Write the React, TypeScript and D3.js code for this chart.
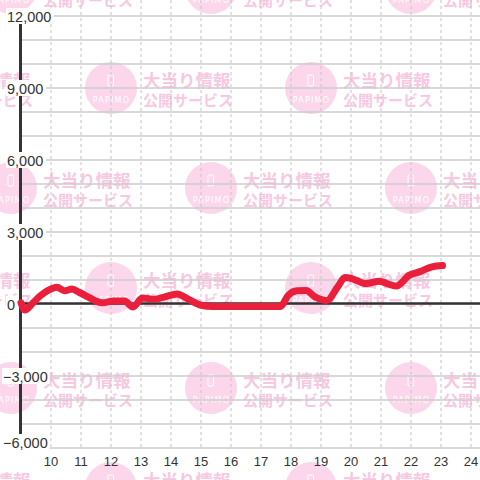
import * as d3 from 'd3';

const hours = [
  9.0, 9.13, 9.4, 9.65, 9.95, 10.2, 10.45, 10.7, 10.95, 11.3, 11.7, 12.1, 12.45, 12.73,
  13.05, 13.45, 13.8, 14.2, 14.6, 15.0, 15.4, 16.0, 17.0, 17.65, 17.9, 18.2, 18.5, 18.8,
  19.2, 19.55, 19.8, 20.05, 20.5, 20.95, 21.2, 21.5, 21.95, 22.3, 22.7, 23.05,
];
const balance = [
  50, -250, 50, 350, 600, 700, 550, 620, 480, 250, 50, 130, 120, -120,
  250, 200, 300, 420, 180, -50, -100, -100, -100, -100, 350, 550, 560, 300,
  150, 700, 1100, 1050, 850, 950, 850, 750, 1200, 1350, 1550, 1600,
];
const yLabelTicks = [12000, 9000, 6000, 3000, 0, -3000, -6000];
const yGridTicks = d3.range(-6000, 12001, 1000);
const xTicks = d3.range(10, 25);
const wmLine1 = '大当り情報';
const wmLine2 = '公開サービス';
const wmBrand = 'PAPIMO';

const W = 480;
const H = 480;
const FONT = '"Liberation Sans", Arial, sans-serif';

export default function App() {
  const x = d3.scaleLinear().domain([9, 24]).range([21, 471]);
  const y = d3.scaleLinear().domain([-6000, 12000]).range([448, 16]);

  const pts = hours.map((h, i) => [h, balance[i]] as [number, number]);
  const line = d3
    .line<[number, number]>()
    .x((d) => x(d[0]))
    .y((d) => y(d[1]))
    .curve(d3.curveMonotoneX);

  // watermark tiles
  const marks: { cx: number; cy: number }[] = [];
  for (let r = 0; r < 6; r++) {
    const off = (r % 2) * 100 + 10;
    for (let j = -1; j < 3; j++) marks.push({ cx: off + j * 200, cy: -12 + r * 100 });
  }

  const fmt = d3.format(',');

  return (
    <svg
      width={W}
      height={H}
      style={{ position: 'absolute', left: 0, top: 0, background: '#fff' }}
      fontFamily={FONT}
    >
      <rect width={W} height={H} fill="#fff" />

      {/* watermark */}
      <g>
        {marks.map((m, i) => (
          <g key={i}>
            <circle cx={m.cx + 1} cy={m.cy} r={26} fill="#fcd6eb" />
            <rect x={m.cx - 2} y={m.cy - 13} width={5.5} height={11} rx={1} fill="none" stroke="#fff" strokeWidth={1} />
            <text x={m.cx + 1.5} y={m.cy + 15} fill="#fff" fontSize={8} textAnchor="middle" letterSpacing={1.2} fontFamily='"DejaVu Sans", sans-serif'>
              {wmBrand}
            </text>
            <text x={m.cx + 33} y={m.cy - 1} fill="#f8c8e2" fontSize={17.5} fontWeight="bold" fontFamily='"Noto Sans CJK JP", sans-serif'>
              {wmLine1}
            </text>
            <text x={m.cx + 33} y={m.cy + 18} fill="#f8c8e2" fontSize={15} fontWeight="bold" fontFamily='"Noto Sans CJK JP", sans-serif'>
              {wmLine2}
            </text>
          </g>
        ))}
      </g>

      {/* horizontal grid */}
      {yGridTicks.map((t) => (
        <line key={'h' + t} x1={x(9)} x2={W} y1={y(t)} y2={y(t)} stroke="#cccccc" strokeWidth={1.5} />
      ))}

      {/* vertical dashed grid */}
      {xTicks.map((t) => (
        <line
          key={'v' + t}
          x1={x(t)}
          x2={x(t)}
          y1={0}
          y2={y(-6000)}
          stroke="#c4c4c4"
          strokeWidth={1}
          strokeDasharray="3,3"
        />
      ))}

      {/* zero line */}
      <line x1={x(9)} x2={W} y1={y(0) - 0.5} y2={y(0) - 0.5} stroke="#333" strokeWidth={2.5} />

      {/* y axis */}
      <line x1={x(9) - 0.5} x2={x(9) - 0.5} y1={y(12000)} y2={y(-6000)} stroke="#333" strokeWidth={3} />

      {/* data line */}
      <path
        d={line(pts) || ''}
        fill="none"
        stroke="#ea1f3b"
        strokeWidth={7}
        strokeLinejoin="round"
        strokeLinecap="round"
      />

      {/* y labels (bottom one kept above the last grid line) */}
      {yLabelTicks.map((t) => {
        const label = fmt(t);
        const lx = t < 0 ? 3 : 7;
        const tw = label.length * 7.6;
        const cy = Math.min(y(t), 442);
        return (
          <g key={'yl' + t}>
            <rect x={lx - 1} y={cy - 8} width={tw + 2} height={16} fill="#fff" />
            <text x={lx} y={cy + 5.5} fontSize={14.5} fill="#333">
              {label}
            </text>
          </g>
        );
      })}

      {/* x labels */}
      {xTicks.map((t) => (
        <text key={'xl' + t} x={x(t)} y={466} fontSize={13} textAnchor="middle" fill="#333">
          {t}
        </text>
      ))}
    </svg>
  );
}
